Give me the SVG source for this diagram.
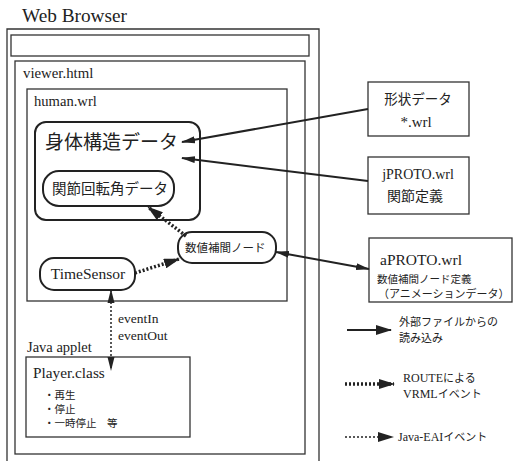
<svg xmlns="http://www.w3.org/2000/svg" width="514" height="461" viewBox="0 0 514 461">
  <style>
    .frame { fill: none; stroke: #333; stroke-width: 1.3; }
    .node { fill: #fff; stroke: #222; stroke-width: 2; }
    .box { fill: #fff; stroke: #333; stroke-width: 1.3; }
    .lat { font-family: "Liberation Serif", "Noto Sans CJK JP", serif; fill: #222; }
    .jp { font-family: "Noto Sans CJK JP", "Liberation Serif", sans-serif; fill: #222; }
    .solid { stroke: #222; stroke-width: 2; fill: none; }
    .route { stroke: #222; stroke-width: 3.5; stroke-dasharray: 2 2; fill: none; }
    .eai { stroke: #222; stroke-width: 1.5; stroke-dasharray: 2 2; fill: none; }
  </style>
  <defs>
    <marker id="head" viewBox="0 0 14 8" refX="13" refY="4" markerWidth="14" markerHeight="8" markerUnits="userSpaceOnUse" orient="auto-start-reverse">
      <path d="M0,0.5 L14,4 L0,7.5 z" fill="#222"/>
    </marker>
    <marker id="headBig" viewBox="0 0 16 10" refX="15" refY="5" markerWidth="16" markerHeight="10" markerUnits="userSpaceOnUse" orient="auto-start-reverse">
      <path d="M0,0 L16,5 L0,10 z" fill="#222"/>
    </marker>
  </defs>

  <rect width="514" height="461" fill="#fff"/>

  <!-- browser window and nested frames -->
  <g id="browser">
    <text class="lat" x="22" y="22" font-size="19.3">Web Browser</text>
    <path class="frame" d="M7,462 V29 H319 V462"/>
    <rect class="frame" x="11" y="35" width="298" height="21"/>
  </g>
  <g id="viewer">
    <rect class="frame" x="15" y="61" width="290" height="393"/>
    <text class="lat" x="23" y="78" font-size="14.8">viewer.html</text>
  </g>
  <g id="human">
    <rect class="frame" x="27" y="89" width="260" height="212"/>
    <text class="lat" x="34" y="106" font-size="14.6">human.wrl</text>
  </g>

  <!-- scene nodes -->
  <g id="body">
    <rect class="node" x="35" y="122" width="165" height="98" rx="11"/>
    <text class="jp" x="45" y="149" font-size="19">身体構造データ</text>
  </g>
  <g id="joint">
    <rect class="node" x="43" y="171" width="131" height="35" rx="16"/>
    <text class="jp" x="52" y="194" font-size="14.5">関節回転角データ</text>
  </g>
  <g id="interp">
    <rect class="node" x="178" y="232" width="98" height="31" rx="14"/>
    <text class="jp" x="185" y="252" font-size="11.5">数値補間ノード</text>
  </g>
  <g id="timesensor">
    <rect class="node" x="40" y="258" width="95" height="32" rx="14"/>
    <text class="lat" x="88" y="279" font-size="15.5" text-anchor="middle">TimeSensor</text>
  </g>

  <!-- external files -->
  <g id="shape">
    <rect class="box" x="368" y="82" width="101" height="54"/>
    <text class="jp" x="418" y="104" font-size="13.5" text-anchor="middle">形状データ</text>
    <text class="lat" x="416" y="127" font-size="15" text-anchor="middle">*.wrl</text>
  </g>
  <g id="jproto">
    <rect class="box" x="368" y="157" width="101" height="57"/>
    <text class="lat" x="418" y="179" font-size="14" text-anchor="middle">jPROTO.wrl</text>
    <text class="jp" x="415" y="201" font-size="14" text-anchor="middle">関節定義</text>
  </g>
  <g id="aproto">
    <rect class="box" x="369" y="238" width="143" height="64"/>
    <text class="lat" x="380" y="265" font-size="15.5">aPROTO.wrl</text>
    <text class="jp" x="377" y="283" font-size="10.5">数値補間ノード定義</text>
    <text class="jp" x="378" y="298" font-size="11">（アニメーションデータ）</text>
  </g>

  <!-- applet -->
  <g id="applet">
    <text class="lat" x="27" y="352" font-size="14.5">Java applet</text>
    <rect class="box" x="26" y="357" width="164" height="80"/>
    <text class="lat" x="33" y="378" font-size="15.3">Player.class</text>
    <text class="jp" x="44" y="399" font-size="10.5">・再生</text>
    <text class="jp" x="44" y="413" font-size="10.5">・停止</text>
    <text class="jp" x="44" y="427" font-size="10.5">・一時停止　等</text>
  </g>

  <!-- connectors -->
  <g id="connectors">
    <line class="solid" x1="368" y1="109" x2="182" y2="142" marker-end="url(#head)"/>
    <line class="solid" x1="368" y1="181" x2="182" y2="158" marker-end="url(#head)"/>
    <line class="solid" x1="276" y1="252" x2="369" y2="269" marker-start="url(#head)" marker-end="url(#head)"/>
    <line class="route" x1="186" y1="236" x2="148" y2="207" marker-end="url(#headBig)"/>
    <line class="route" x1="135" y1="273" x2="179" y2="259" marker-end="url(#headBig)"/>
    <line class="eai" x1="111" y1="290" x2="111" y2="370" marker-start="url(#head)" marker-end="url(#head)"/>
    <text class="lat" x="118" y="323" font-size="13.5">eventIn</text>
    <text class="lat" x="118" y="340" font-size="13.5">eventOut</text>
  </g>

  <!-- legend -->
  <g id="legend">
    <line class="solid" x1="347" y1="330" x2="391" y2="330" marker-end="url(#headBig)"/>
    <text class="jp" x="399" y="326" font-size="11">外部ファイルからの</text>
    <text class="jp" x="399" y="342" font-size="11">読み込み</text>
    <line class="route" x1="345" y1="384" x2="394" y2="384" marker-end="url(#headBig)"/>
    <text class="lat" x="403" y="382" font-size="12">ROUTE<tspan class="jp" font-size="11">による</tspan></text>
    <text class="lat" x="403" y="398" font-size="12">VRML<tspan class="jp" font-size="11">イベント</tspan></text>
    <line class="eai" x1="345" y1="437" x2="393" y2="437" marker-end="url(#headBig)"/>
    <text class="lat" x="398" y="441" font-size="12">Java-EAI<tspan class="jp" font-size="11">イベント</tspan></text>
  </g>
</svg>
